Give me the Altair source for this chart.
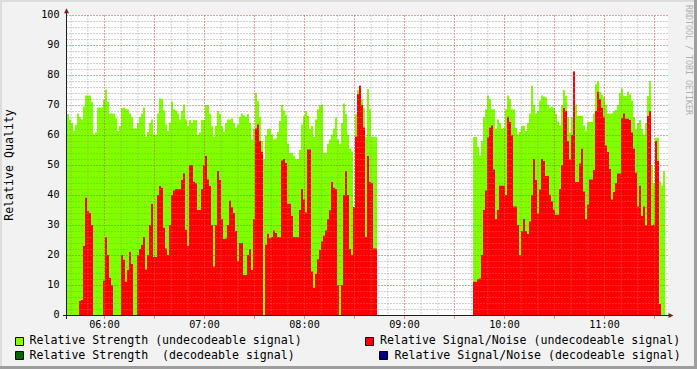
import altair as alt
import pandas as pd

FONT = "DejaVu Sans Mono"

# ---------------- data (one sample every 72 s) ----------------
step_minutes = 1.2
segment_starts = ["05:37:30", "09:41:06"]

strength_seg1 = [
    67, 65.2, 64, 61.5, 63.4, 67.2, 66, 65.2, 69.5, 73.2,
    73.2, 73.2, 71, 60.2, 60.8, 69.2, 69.2, 69.2, 71.7, 75.2,
    71, 67.2, 67.2, 67.2, 65.7, 61.3, 63, 69, 69.2, 68.6,
    68.6, 67.2, 66, 62.2, 62.2, 64, 66, 67.2, 69.2, 59.4,
    61, 64, 65.2, 60.2, 60.2, 67.2, 72.2, 71.9, 68.2, 63.5,
    61.3, 64.2, 71.2, 68.6, 68.2, 67.2, 65.2, 68, 70.2, 65.2,
    63, 65, 64, 65, 65, 60, 60.8, 65, 65, 70,
    70, 67, 63, 59.4, 63, 68, 67, 63, 61, 64,
    65.2, 65.2, 65.5, 64, 62.5, 63.5, 66, 67.2, 66.5, 66,
    67, 64, 58.5, 62.2, 74.1, 71.3, 66, 58, 52, 59.9,
    61.9, 62.2, 60.2, 58.5, 58.9, 61, 64.7, 70, 68.2, 66.6,
    57.2, 54.1, 54, 53, 52, 52, 55, 63.5, 66.3, 68,
    66.3, 61.9, 63, 59.3, 65.2, 68.6, 69.9, 70.2, 54.1, 54.1,
    57.1, 58.5, 60.2, 62.2, 65.8, 58.5, 57.1, 64, 70.5, 67,
    60, 55.5, 54.6, 36, 66.9, 75, 76.4, 72, 69, 59.4,
    75.3, 68.6, 59.4, 59.4, 59.4,
]
snr_seg1 = [
    0, 0, 0, 0, 0, 0, 4.7, 5.0, 23, 39.1,
    34.6, 34, 30, 0, 0, 0, 0, 0, 11.4, 26,
    20, 12.3, 10, 0, 0, 0, 0, 20, 18.4, 11.1,
    15, 21, 17, 0, 0, 20, 22, 23.3, 26, 15.2,
    20, 30, 37, 19.3, 19.3, 40, 43, 42.4, 29.1, 22.2,
    20, 30, 40, 41.5, 42, 42, 42, 45, 47.2, 28.4,
    23.1, 50, 50, 44.4, 44, 35, 35, 42, 50, 53,
    45.2, 43, 30, 16.2, 30, 48, 45, 32, 25.3, 25.5,
    30, 38.1, 36, 34, 28, 18, 24, 24, 13.3, 13.3,
    20, 22, 15, 32, 62.2, 63.5, 58, 54.4, 0, 23.4,
    27.1, 25.6, 26, 28.2, 27.3, 26, 26, 51.5, 52, 50.7,
    37.1, 37.1, 33, 26, 26, 26, 35, 42, 38.5, 34.2,
    55.2, 55.2, 14.5, 9.1, 13.7, 18.6, 21.7, 24.5, 26.4, 28.2,
    32, 34.9, 44.3, 42.4, 42, 10, 0, 10, 40, 48,
    40, 22, 20.1, 36, 59.4, 73.6, 76.4, 70, 62.5, 26,
    53, 44.3, 44, 22.2, 22.2,
]
strength_seg2 = [
    59.3, 59.3, 56, 53.2, 58, 66, 68.6, 73.2, 71.9, 68.6,
    68.6, 62.2, 65.2, 64, 62.1, 62.3, 68.6, 73.2, 71.9, 68.6,
    68.6, 62.4, 60.2, 61, 63, 63, 61.3, 64, 67.2, 76.4,
    70, 67.2, 68, 71.5, 73.2, 72.8, 72.5, 70, 69, 69.5,
    69, 67, 64.5, 63.2, 70, 75, 73, 66, 60.8, 66,
    81.2, 70.2, 66.3, 66.3, 66.3, 63.2, 61.5, 64.3, 64.3, 64.3,
    67.2, 76.9, 78, 74.4, 73.5, 72.5, 70, 67.2, 67.2, 67.2,
    68, 68.3, 70, 74, 75.5, 73, 73, 74.4, 73.5, 71.5,
    66, 61.9, 64, 65, 62, 60.2, 64, 73, 78, 50,
    44, 59.1, 59.1, 44.6, 43.1, 47.9,
]
snr_seg2 = [
    11.1, 11.1, 12, 12.2, 20, 35, 41.5, 59.2, 62.4, 63.2,
    48.5, 32, 35, 43.1, 43.1, 43.1, 40, 66.1, 64.3, 59.9,
    36.2, 36.2, 30, 20, 28, 32, 28, 27, 31.2, 40,
    52, 45, 33.8, 41.8, 52, 51.3, 46.3, 46.3, 40.1, 37.9,
    35.1, 33.4, 33.4, 42, 50, 69, 68, 58, 51.8, 60,
    81.2, 44.3, 44.3, 50.5, 55.4, 41.2, 32, 36.8, 45.2, 45.2,
    48.3, 68, 74.4, 71.9, 69.1, 66.1, 56.5, 54.3, 48.7, 38.5,
    41, 44, 47.2, 47.2, 65.6, 67.2, 65.4, 65.4, 65, 60.8,
    55.4, 47.4, 36.2, 43.1, 33, 36.2, 29.8, 66.3, 68, 29.8,
    30.1, 58, 51.3, 3.7, 0, 0,
]

hour_labels = ["06:00", "07:00", "08:00", "09:00", "10:00", "11:00"]
y_tick_values = [0, 10, 20, 30, 40, 50, 60, 70, 80, 90, 100]

legend_labels = [
    "Relative Strength (undecodeable signal)",
    "Relative Signal/Noise (undecodeable signal)",
    "Relative Strength\u00a0 (decodeable signal)",
    "Relative Signal/Noise (decodeable signal)",
]
legend_colors = ["#80ff00", "#ff0000", "#006400", "#000088"]


def to_minutes(s):
    parts = [int(p) for p in s.split(":")]
    while len(parts) < 3:
        parts.append(0)
    h, m, sec = parts
    return h * 60 + m + sec / 60.0


rows = []
for start, g, r in [(segment_starts[0], strength_seg1, snr_seg1),
                    (segment_starts[1], strength_seg2, snr_seg2)]:
    t0 = to_minutes(start)
    for i, (gv, rv) in enumerate(zip(g, r)):
        t = t0 + i * step_minutes
        rows.append({"t": t, "t_end": t + step_minutes, "strength": gv, "snr": rv})
df = pd.DataFrame(rows)

hour_minutes = [to_minutes(h) for h in hour_labels]
major_x = [m for m in range(360, 700, 30)]
minor_x = [m for m in range(340, 700, 10) if m % 30]
major_y = [v for v in range(10, 101, 10)]
minor_y = [v for v in range(2, 100, 2) if v % 10]

# ---------------- layout ----------------
W, H = 601, 300
xscale = alt.Scale(domain=[337.5, 698.1], nice=False, zero=False)
yscale = alt.Scale(domain=[0, 100], nice=False, zero=True)
one = alt.Data(values=[{"a": 1}])

green = alt.Chart(df).mark_rect(color="#80ff00").encode(
    x=alt.X("t:Q", scale=xscale, axis=None),
    x2="t_end:Q",
    y=alt.Y("strength:Q", scale=yscale, axis=None),
    y2=alt.value(H),
)
red = alt.Chart(df).mark_rect(color="#ff0000").encode(
    x=alt.X("t:Q", scale=xscale, axis=None),
    x2="t_end:Q",
    y=alt.Y("snr:Q", scale=yscale, axis=None),
    y2=alt.value(H),
)

grid_minor_v = alt.Chart(pd.DataFrame({"v": minor_x})).mark_rule(
    color="#8f8f8f", opacity=0.42, strokeDash=[2, 1], strokeWidth=1
).encode(x=alt.X("v:Q", scale=xscale, axis=None))
grid_minor_h = alt.Chart(pd.DataFrame({"v": minor_y})).mark_rule(
    color="#8f8f8f", opacity=0.42, strokeDash=[2, 1], strokeWidth=1, yOffset=0.5
).encode(y=alt.Y("v:Q", scale=yscale, axis=None))
grid_major_v = alt.Chart(pd.DataFrame({"v": major_x})).mark_rule(
    color="#de4f4f", opacity=0.55, strokeDash=[2, 1], strokeWidth=1
).encode(x=alt.X("v:Q", scale=xscale, axis=None))
grid_major_h = alt.Chart(pd.DataFrame({"v": major_y})).mark_rule(
    color="#de4f4f", opacity=0.55, strokeDash=[2, 1], strokeWidth=1, yOffset=0.5
).encode(y=alt.Y("v:Q", scale=yscale, axis=None))

# ticks below the time axis (major grid extension)
x_ticks = alt.Chart(pd.DataFrame({"v": major_x})).mark_rule(
    color="#de4f4f", opacity=0.6, strokeWidth=1
).encode(x=alt.X("v:Q", scale=xscale, axis=None), y=alt.value(H), y2=alt.value(H + 4))

# axis labels
x_labels = alt.Chart(pd.DataFrame({"m": hour_minutes, "label": hour_labels})).mark_text(
    font=FONT, fontSize=10.15, color="#000000", align="center", baseline="alphabetic"
).encode(x=alt.X("m:Q", scale=xscale, axis=None), y=alt.value(313), text="label:N")
y_labels = alt.Chart(pd.DataFrame({"v": y_tick_values})).mark_text(
    font=FONT, fontSize=10.15, color="#000000", align="right", baseline="middle", dx=-7.5
).encode(x=alt.value(0), y=alt.Y("v:Q", scale=yscale, axis=None), text="v:Q")
y_title = alt.Chart(one).mark_text(
    text="Relative Quality", font=FONT, fontSize=11.6, color="#000000", angle=270,
    align="center", baseline="alphabetic"
).encode(x=alt.value(-54), y=alt.value(150))

axis_color = "#1f1f1f"
y_axis_line = alt.Chart(one).mark_rule(color=axis_color, strokeWidth=1).encode(
    x=alt.value(-0.5), y=alt.value(-4), y2=alt.value(304)
)
x_axis_line = alt.Chart(one).mark_rule(color=axis_color, strokeWidth=1).encode(
    x=alt.value(-4), x2=alt.value(602), y=alt.value(300.5)
)
arrow_up = alt.Chart(one).mark_point(
    shape="M0,-1L1,1L-1,1Z", filled=True, size=25, color="#801f1f", opacity=1
).encode(x=alt.value(-0.5), y=alt.value(-4.2))
arrow_right = alt.Chart(one).mark_point(
    shape="M1,0L-1,1L-1,-1Z", filled=True, size=25, color="#801f1f", opacity=1
).encode(x=alt.value(604), y=alt.value(300.5))

watermark = alt.Chart(one).mark_text(
    text="RRDTOOL / TOBI OETIKER", angle=90, align="left", baseline="middle",
    font=FONT, fontSize=8.3, color="#b0b0b0"
).encode(x=alt.value(620.5), y=alt.value(-10))

# frame shading
frame = []
for (x0, x1, y0, y1, c) in [
    (-67, 630, -15, -13, "#dcdcdc"),
    (-67, -65, -15, 354, "#dcdcdc"),
    (-67, 630, 351, 354, "#9e9e9e"),
    (627, 630, -15, 354, "#9e9e9e"),
]:
    frame.append(
        alt.Chart(one).mark_rect(color=c).encode(
            x=alt.value(x0), x2=alt.value(x1), y=alt.value(y0), y2=alt.value(y1)
        )
    )

# legend (2 x 2, RRDtool style)
legend_layout = [(-51.5, 322.5, -37.5, 329.3), (298.5, 322.5, 313, 329.3),
                 (-51.5, 336.5, -37.5, 343.7), (312.5, 336.5, 327.5, 343.7)]
legend_layers = []
for label, color, (sx, sy, tx, ty) in zip(legend_labels, legend_colors, legend_layout):
    legend_layers.append(
        alt.Chart(one).mark_rect(color=color, stroke="#000000", strokeWidth=1).encode(
            x=alt.value(sx), x2=alt.value(sx + 8), y=alt.value(sy), y2=alt.value(sy + 8)
        )
    )
    legend_layers.append(
        alt.Chart(one).mark_text(
            text=label, align="left", baseline="alphabetic", font=FONT, fontSize=11.6,
            color="#000000"
        ).encode(x=alt.value(tx), y=alt.value(ty))
    )

chart = alt.layer(
    green, red, grid_minor_v, grid_minor_h, grid_major_v, grid_major_h, x_ticks,
    x_labels, y_labels, y_title,
    y_axis_line, x_axis_line, arrow_up, arrow_right, watermark, *frame, *legend_layers
).properties(
    width=W, height=H,
    padding={"left": 67, "top": 15, "right": 29, "bottom": 54},
    autosize=alt.AutoSizeParams(type="none"),
).configure(background="#f2f2f2").configure_view(fill="#ffffff", strokeWidth=0)

chart.save("out.html", embed_options={"renderer": "svg", "actions": False})
